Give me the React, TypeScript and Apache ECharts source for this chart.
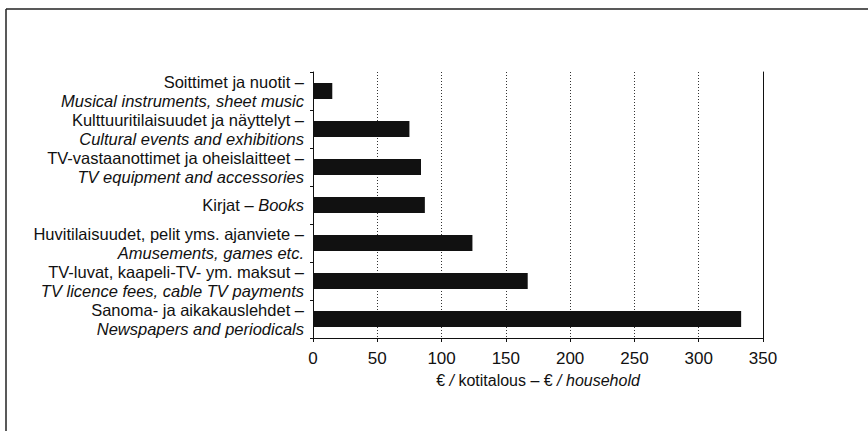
import React, { useEffect, useRef } from "react";
import * as echarts from "echarts";

const fiLabels = [
  "Soittimet ja nuotit –",
  "Kulttuuritilaisuudet ja näyttelyt –",
  "TV-vastaanottimet ja oheislaitteet –",
  "Kirjat – ",
  "Huvitilaisuudet, pelit yms. ajanviete –",
  "TV-luvat, kaapeli-TV- ym. maksut –",
  "Sanoma- ja aikakauslehdet –",
];
const enLabels = [
  "Musical instruments, sheet music",
  "Cultural events and exhibitions",
  "TV equipment and accessories",
  "Books",
  "Amusements, games etc.",
  "TV licence fees, cable TV payments",
  "Newspapers and periodicals",
];
const singleLine = [false, false, false, true, false, false, false];
const values = [15, 75, 84, 87, 124, 167, 333];
const categories = fiLabels.map((_, i) => String(i));

const FONT = "'Liberation Sans', Arial, sans-serif";

export default function App() {
  const ref = useRef<HTMLDivElement>(null);
  useEffect(() => {
    if (!ref.current) return;
    const chart = echarts.init(ref.current, null, { renderer: "svg" });
    chart.setOption({
      animation: false,
      backgroundColor: "#fff",
      textStyle: { fontFamily: FONT },
      grid: { left: 313, top: 72, right: 105, bottom: 93, containLabel: false },
      graphic: [
        { type: "line", shape: { x1: 6, y1: 9, x2: 868, y2: 9 }, style: { stroke: "#222", lineWidth: 1.5 } },
        { type: "line", shape: { x1: 6, y1: 9, x2: 6, y2: 431 }, style: { stroke: "#222", lineWidth: 1.5 } },
      ],
      xAxis: {
        type: "value",
        min: 0,
        max: 350,
        interval: 50,
        name: "{n|€ }{i|/}{n| kotitalous – € }{i|/ household}",
        nameLocation: "middle",
        nameGap: 34,
        nameTextStyle: {
          rich: {
            n: { fontFamily: FONT, fontSize: 16, color: "#111" },
            i: { fontFamily: FONT, fontSize: 16, fontStyle: "italic", color: "#111" },
          },
        },
        axisLine: { show: true, lineStyle: { color: "#111", width: 1 } },
        axisTick: { show: true, length: 4, lineStyle: { color: "#111" } },
        axisLabel: { color: "#111", fontSize: 17, fontFamily: FONT, margin: 12 },
        splitLine: { show: true, lineStyle: { color: "#333", type: [1, 2], width: 1 } },
      },
      yAxis: [
        {
          type: "category",
          data: categories,
          inverse: true,
          axisLine: { show: true, lineStyle: { color: "#111", width: 1 } },
          axisTick: { show: true, length: 3, lineStyle: { color: "#111" } },
          axisLabel: {
            margin: 9,
            align: "right",
            formatter: (v: string) => {
              const i = Number(v);
              if (singleLine[i]) return `{fi|${fiLabels[i]}}{en|${enLabels[i]}}`;
              return `{fi|${fiLabels[i]}}\n{en|${enLabels[i]}}`;
            },
            rich: {
              fi: { fontFamily: FONT, fontSize: 16.5, color: "#111", lineHeight: 19, align: "right" },
              en: { fontFamily: FONT, fontSize: 16.5, fontStyle: "italic", color: "#111", lineHeight: 19, align: "right" },
            },
          },
          splitLine: { show: false },
        },
        {
          type: "category",
          data: categories,
          inverse: true,
          position: "right",
          axisLine: { show: true, lineStyle: { color: "#111", width: 1 } },
          axisTick: { show: false },
          axisLabel: { show: false },
          splitLine: { show: false },
        },
      ],
      series: [
        {
          type: "bar",
          data: values,
          barWidth: 16,
          itemStyle: { color: "#111" },
          silent: true,
        },
      ],
    });
    return () => chart.dispose();
  }, []);
  return (
    <div
      ref={ref}
      style={{ position: "fixed", left: 0, top: 0, width: 868, height: 431 }}
    />
  );
}
